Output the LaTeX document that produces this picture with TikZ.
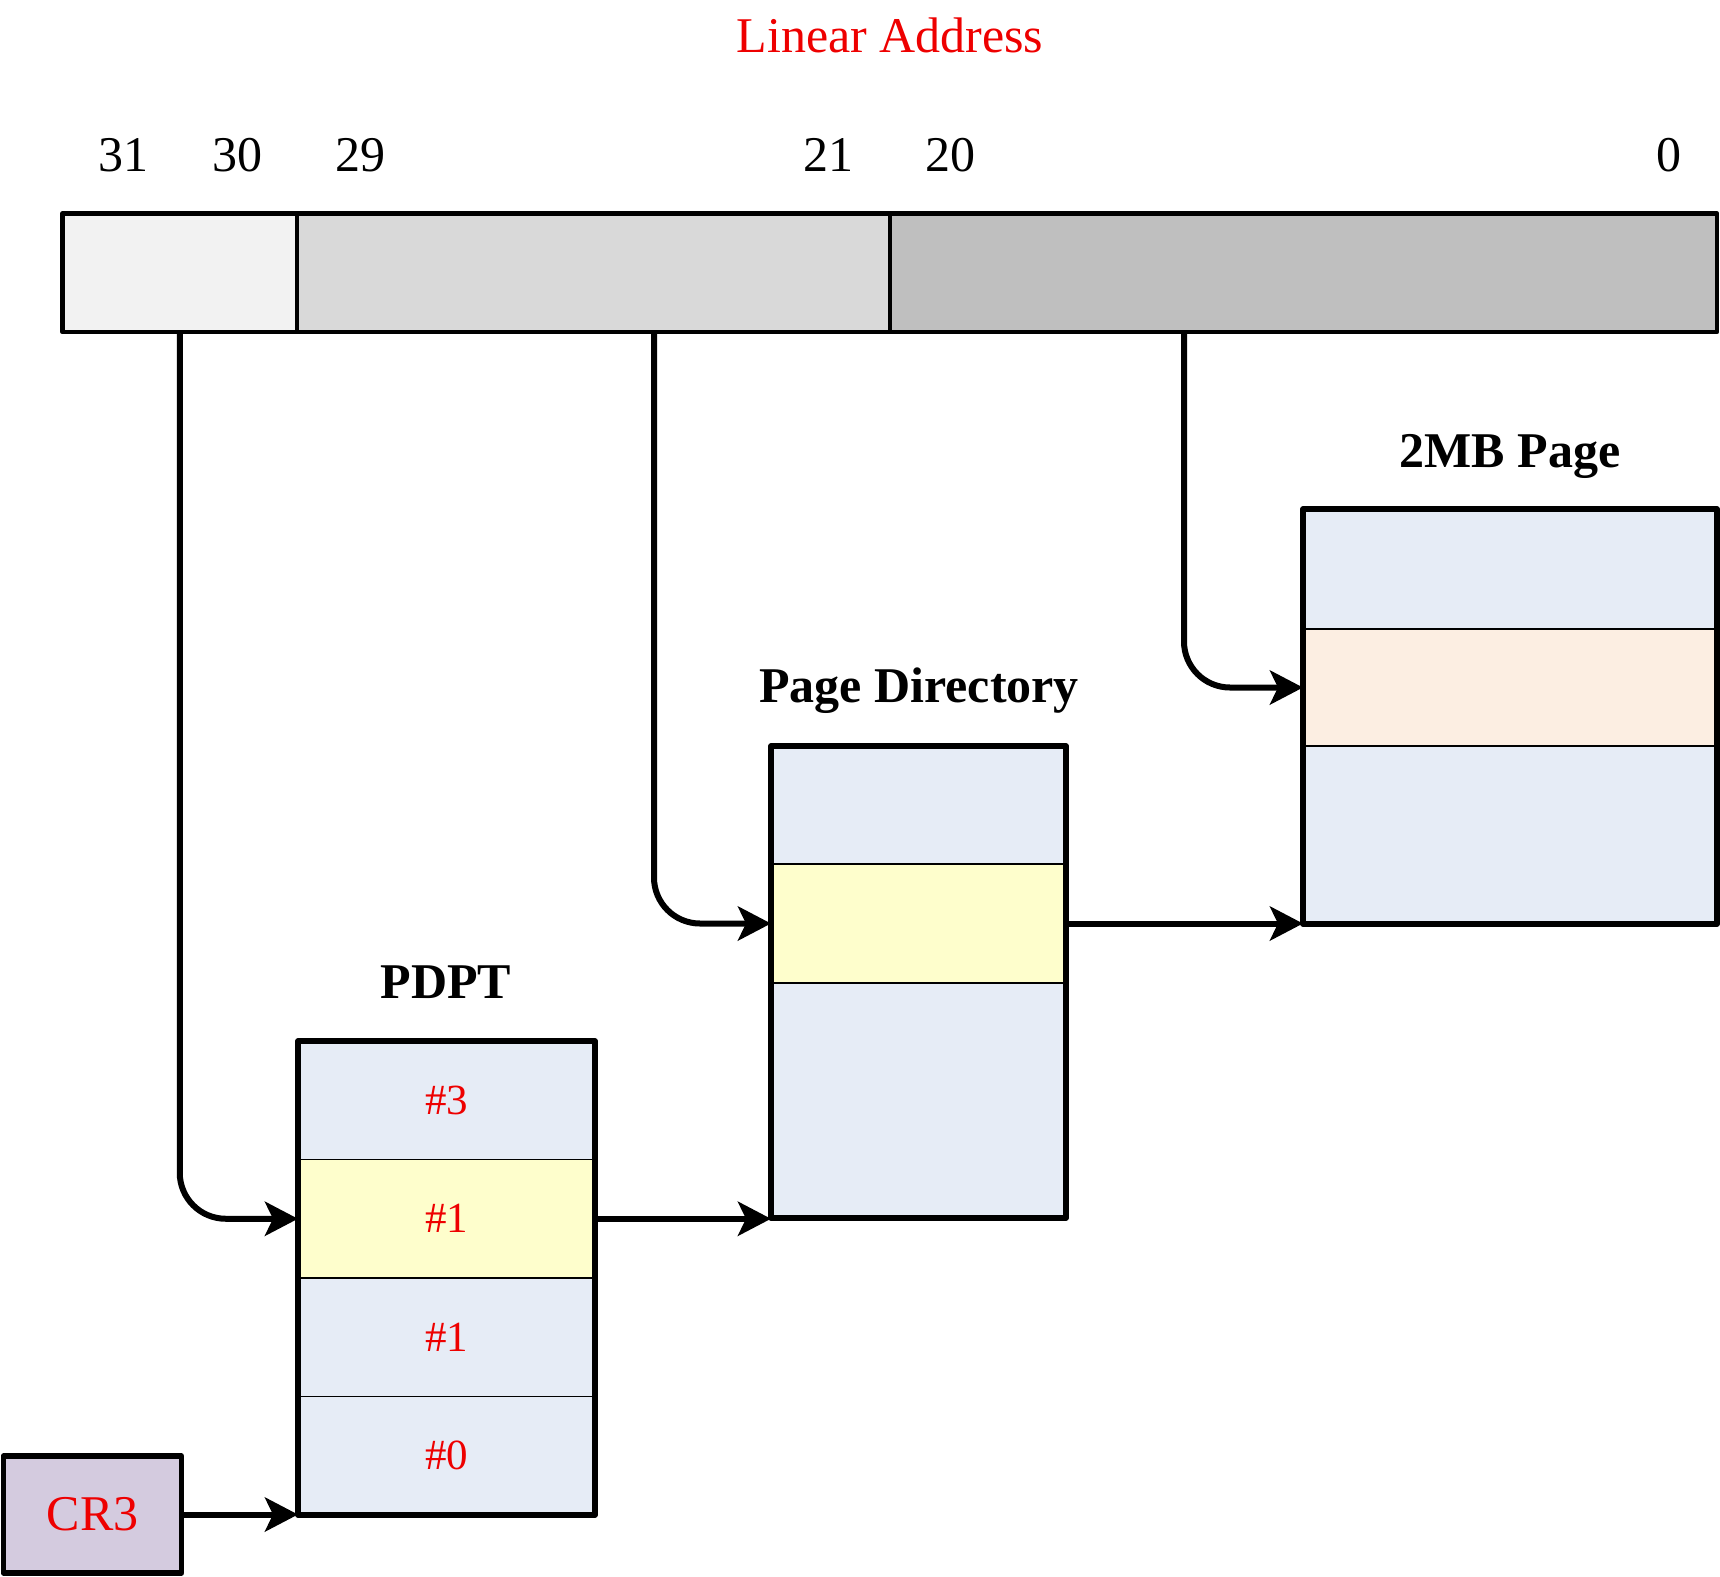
\documentclass[tikz,border=0pt]{standalone}
\usepackage{fontspec}
\setmainfont{Liberation Serif}
\usetikzlibrary{arrows.meta,calc}
\definecolor{segA}{HTML}{F2F2F2}
\definecolor{segB}{HTML}{D9D9D9}
\definecolor{segC}{HTML}{BFBFBF}
\definecolor{rowblue}{HTML}{E6ECF6}
\definecolor{rowyellow}{HTML}{FEFECC}
\definecolor{rowpeach}{HTML}{FCEEE2}
\definecolor{crfill}{HTML}{D4CBDF}
\definecolor{redtxt}{HTML}{EE0000}
\tikzset{
  seg/.style={draw, line width=2.4pt, line join=round, inner sep=0pt, outer sep=0pt, anchor=north west, minimum height=59.25pt},
  row/.style={draw, line width=0.8pt, inner sep=0pt, outer sep=0pt, anchor=north west, font=\fontsize{21.5}{25}\selectfont, text=redtxt},
  frame/.style={draw, line width=2.75pt, line join=round},
  conn/.style={line width=3pt, rounded corners=23pt, -{Stealth[length=16.5pt,width=17pt,inset=4pt]}},
  bitno/.style={anchor=base, font=\fontsize{25}{30}\selectfont},
  title/.style={anchor=base, font=\fontsize{25}{30}\selectfont\bfseries},
}
\begin{document}
\begin{tikzpicture}[x=0.5pt,y=-0.5pt]
\useasboundingbox (0,0) rectangle (1720,1576);
% title
\node[bitno, text=redtxt] (la) at (890,52) {Linear Address};
% bit numbers
\node[bitno] (b31) at (123,171) {31};
\node[bitno] (b30) at (237,171) {30};
\node[bitno] (b29) at (360,171) {29};
\node[bitno] (b21) at (828,171) {21};
\node[bitno] (b20) at (950,171) {20};
\node[bitno] (b0) at (1669,171) {0};
% address bar
\node[seg, fill=segA, minimum width=117.25pt] (s1) at (62.5,213.5) {};
\node[seg, fill=segB, minimum width=296.5pt] (s2) at (s1.north east) {};
\node[seg, fill=segC, minimum width=413.5pt] (s3) at (s2.north east) {};
% PDPT
\node[title] (tp) at (446,998) {PDPT};
\node[row, fill=rowblue, minimum width=148.5pt, minimum height=59.25pt] (p3) at (298,1041) {\#3};
\node[row, fill=rowyellow, minimum width=148.5pt, minimum height=59.25pt] (p1y) at (p3.south west) {\#1};
\node[row, fill=rowblue, minimum width=148.5pt, minimum height=59.25pt] (p1) at (p1y.south west) {\#1};
\node[row, fill=rowblue, minimum width=148.5pt, minimum height=59.25pt] (p0) at (p1.south west) {\#0};
\draw[frame] (p3.north west) rectangle (p0.south east);
% Page Directory
\node[title] (tpd) at (919,702) {Page Directory};
\node[row, fill=rowblue, minimum width=147.5pt, minimum height=59pt] (d1) at (771,746) {};
\node[row, fill=rowyellow, minimum width=147.5pt, minimum height=59.5pt] (d2) at (d1.south west) {};
\node[row, fill=rowblue, minimum width=147.5pt, minimum height=117.5pt] (d3) at (d2.south west) {};
\draw[frame] (d1.north west) rectangle (d3.south east);
% 2MB page
\node[title] (tm) at (1510,467) {2MB Page};
\node[row, fill=rowblue, minimum width=207pt, minimum height=60pt] (m1) at (1303,509) {};
\node[row, fill=rowpeach, minimum width=207pt, minimum height=58.5pt] (m2) at (m1.south west) {};
\node[row, fill=rowblue, minimum width=207pt, minimum height=89pt] (m3) at (m2.south west) {};
\draw[frame] (m1.north west) rectangle (m3.south east);
% CR3
\node[draw, line width=2.75pt, line join=round, fill=crfill, text=redtxt, inner sep=0pt, outer sep=0pt, anchor=north west, minimum width=89pt, minimum height=58.5pt, font=\fontsize{25}{30}\selectfont] (cr) at (3.5,1456) {CR3};
% connectors
\draw[conn] (s1.south) |- (p1y.west);
\draw[conn] ($(s2.south west)+(357,0)$) |- (d2.west);
\draw[conn] ($(s3.south west)+(294,0)$) |- (m2.west);
\draw[conn] (p1y.east) -- (p1y.east -| d3.south west);
\draw[conn] (d2.east) -- (d2.east -| m3.south west);
\draw[conn] (cr.east) -- (cr.east -| p0.south west);
\end{tikzpicture}
\end{document}
